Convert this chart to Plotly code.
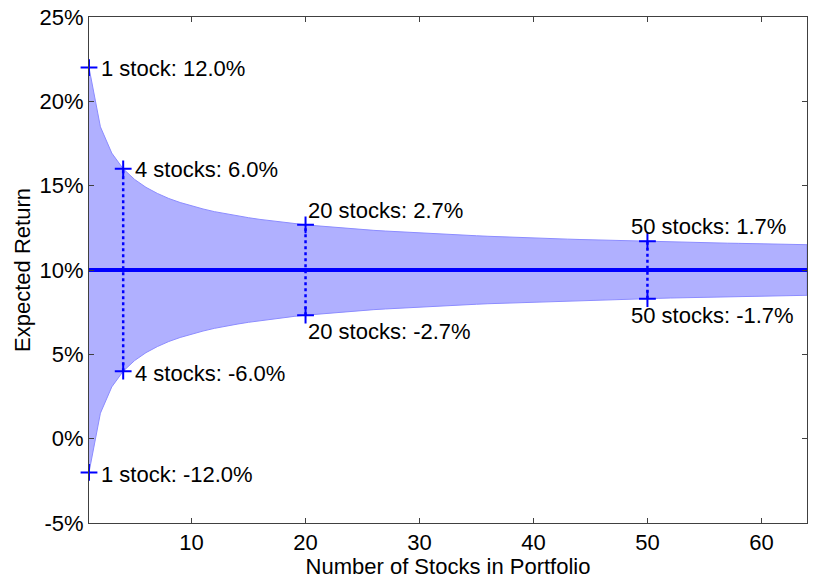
import plotly.graph_objects as go

# Number of stocks in portfolio
n_stocks = list(range(1, 65))
# Expected (mean) return, %
mean_return = 10.0
# Half-width of band (one std dev of return, %) read at each n
half_width = [12.00, 8.49, 6.93, 6.00, 5.37, 4.90, 4.54, 4.24, 4.00, 3.79,
              3.62, 3.46, 3.33, 3.21, 3.10, 3.00, 2.91, 2.83, 2.75, 2.68,
              2.62, 2.56, 2.50, 2.45, 2.40, 2.35, 2.31, 2.27, 2.23, 2.19,
              2.16, 2.12, 2.09, 2.06, 2.03, 2.00, 1.97, 1.95, 1.92, 1.90,
              1.87, 1.85, 1.83, 1.81, 1.79, 1.77, 1.75, 1.73, 1.71, 1.70,
              1.68, 1.66, 1.65, 1.63, 1.62, 1.60, 1.59, 1.58, 1.56, 1.55,
              1.54, 1.52, 1.51, 1.50]

# Highlighted portfolios
marked_n = [1, 4, 20, 50]
marked_hw = [12.0, 6.0, 2.7, 1.7]

y_ticks = [-5, 0, 5, 10, 15, 20, 25]
y_tick_labels = ["-5%", "0%", "5%", "10%", "15%", "20%", "25%"]
x_ticks = [10, 20, 30, 40, 50, 60]
x_tick_labels = ["10", "20", "30", "40", "50", "60"]

upper = [mean_return + h for h in half_width]
lower = [mean_return - h for h in half_width]

FONT = "Liberation Sans"
FS = 22
BLUE = "#0000ff"

fig = go.Figure()

# Band
fig.add_trace(go.Scatter(
    x=n_stocks + n_stocks[::-1],
    y=upper + lower[::-1],
    fill="toself",
    fillcolor="rgb(176,176,255)",
    line=dict(color="rgb(140,140,255)", width=1),
    mode="lines",
    hoverinfo="skip",
))

# Mean line
fig.add_trace(go.Scatter(
    x=[n_stocks[0], n_stocks[-1]],
    y=[mean_return, mean_return],
    mode="lines",
    line=dict(color=BLUE, width=4),
))

# Dotted verticals for n>1
for n in marked_n:
    if n == 1:
        continue
    hw = half_width[n_stocks.index(n)]
    fig.add_trace(go.Scatter(
        x=[n, n], y=[mean_return - hw, mean_return + hw],
        mode="lines", line=dict(color=BLUE, width=2.5, dash="dot"),
    ))

# Markers
mx, my = [], []
for n in marked_n:
    hw = half_width[n_stocks.index(n)]
    mx += [n, n]
    my += [mean_return + hw, mean_return - hw]
fig.add_trace(go.Scatter(
    x=mx, y=my, mode="markers", cliponaxis=False,
    marker=dict(symbol="cross-thin", size=12, line=dict(color=BLUE, width=2)),
))

# Annotations
anns = []
for n, h in zip(marked_n, marked_hw):
    hw = half_width[n_stocks.index(n)]
    word = "stock" if n == 1 else "stocks"
    up_txt = f"{n} {word}: {h:.1f}%"
    lo_txt = f"{n} {word}: -{h:.1f}%"
    if n in (1, 4):
        anns.append(dict(x=n, y=mean_return + hw, text=up_txt, xanchor="left",
                         yanchor="middle", xshift=10, yshift=-1))
        anns.append(dict(x=n, y=mean_return - hw, text=lo_txt, xanchor="left",
                         yanchor="middle", xshift=10, yshift=-2))
    elif n == 20:
        anns.append(dict(x=n, y=mean_return + hw, text=up_txt, xanchor="left",
                         yanchor="bottom", xshift=0, yshift=0))
        anns.append(dict(x=n, y=mean_return - hw, text=lo_txt, xanchor="left",
                         yanchor="top", xshift=0, yshift=-2))
    else:
        anns.append(dict(x=n, y=mean_return + hw, text=up_txt, xanchor="left",
                         yanchor="bottom", xshift=-18, yshift=0))
        anns.append(dict(x=n, y=mean_return - hw, text=lo_txt, xanchor="left",
                         yanchor="top", xshift=-18, yshift=-2))
for a in anns:
    a.update(xref="x", yref="y", showarrow=False,
             font=dict(family=FONT, size=FS, color="black"))

fig.update_layout(
    width=817, height=579,
    margin=dict(l=89, r=10, t=17, b=56, pad=0, autoexpand=False),
    paper_bgcolor="white", plot_bgcolor="white",
    showlegend=False,
    font=dict(family=FONT, size=FS, color="black"),
    annotations=anns,
    xaxis=dict(
        range=[1, 64], tickmode="array", tickvals=x_ticks, ticktext=x_tick_labels,
        ticks="inside", ticklen=5,
        tickcolor="#404040", showline=True, linecolor="#404040", linewidth=1,
        mirror="ticks", showgrid=False, zeroline=False, automargin=False,
        title=dict(text="Number of Stocks in Portfolio", standoff=0,
                   font=dict(family=FONT, size=FS)),
        tickfont=dict(family=FONT, size=FS),
    ),
    yaxis=dict(
        range=[-5, 25], tickmode="array", tickvals=y_ticks, ticktext=y_tick_labels,
        ticks="inside", ticklen=5, tickcolor="#404040", showline=True,
        linecolor="#404040", linewidth=1, mirror="ticks", showgrid=False,
        zeroline=False, automargin=False,
        title=dict(text="Expected Return", standoff=2,
                   font=dict(family=FONT, size=FS)),
        tickfont=dict(family=FONT, size=FS),
    ),
)

fig.write_html("out.html",
               config={"displayModeBar": False},
               post_script="document.body.style.margin='0';document.body.style.overflow='hidden';")
